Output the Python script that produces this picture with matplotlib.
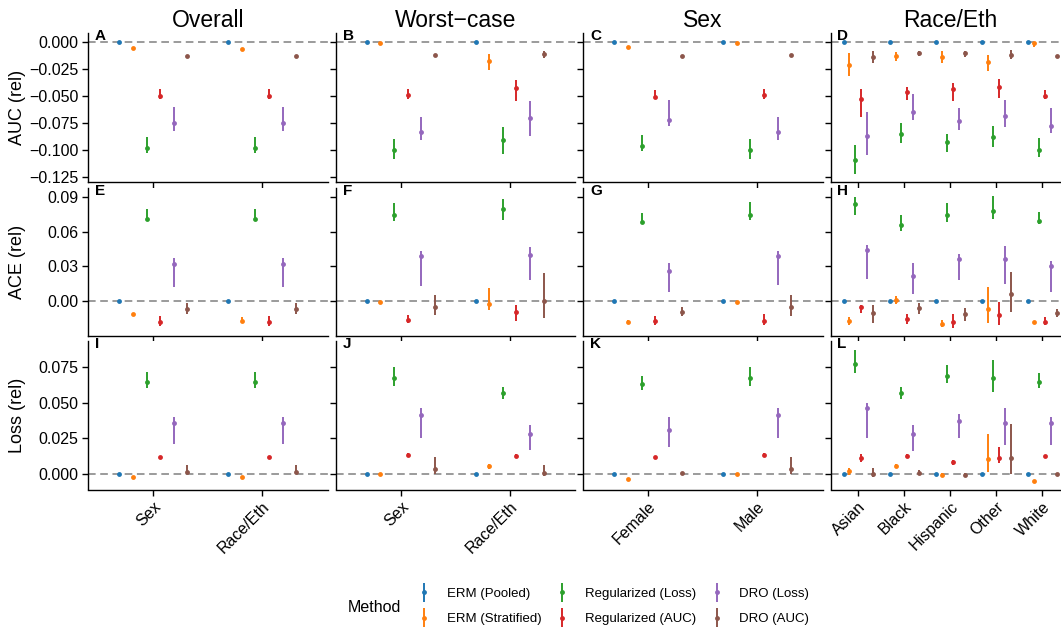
import numpy as np
import matplotlib
matplotlib.use("Agg")
import matplotlib.pyplot as plt
from matplotlib.container import ErrorbarContainer
from matplotlib.legend_handler import HandlerErrorbar

plt.rcParams["font.family"] = ["Liberation Sans", "DejaVu Sans"]

W, H = 1061, 630

METHODS = ["ERM (Pooled)", "ERM (Stratified)", "Regularized (Loss)",
           "Regularized (AUC)", "DRO (Loss)", "DRO (AUC)"]
COLORS = ["#1f77b4", "#ff7f0e", "#2ca02c", "#d62728", "#9467bd", "#8c564b"]

GROUPS = ["Sex", "Race/Eth"]
SEX = ["Female", "Male"]
RACE = ["Asian", "Black", "Hispanic", "Other", "White"]
COL_TITLES = ["Overall", "Worst\u2212case", "Sex", "Race/Eth"]
ROW_LABELS = ["AUC (rel)", "ACE (rel)", "Loss (rel)"]
TAGS = "ABCDEFGHIJKL"

AUC_TICKS = [0.0, -0.025, -0.05, -0.075, -0.1, -0.125]
ACE_TICKS = [0.0, 0.03, 0.06, 0.09]
LOSS_TICKS = [0.0, 0.025, 0.05, 0.075]

# rows = methods (same order as METHODS), columns = categories
# ---- AUC ----
AUC_OVERALL_MID = [[0, 0], [-0.0053, -0.0068], [-0.098, -0.098], [-0.050, -0.050], [-0.0755, -0.0755], [-0.0127, -0.0127]]
AUC_OVERALL_LO = [[0, 0], [-0.0062, -0.0082], [-0.1034, -0.1034], [-0.0526, -0.0526], [-0.0823, -0.0823], [-0.0135, -0.0135]]
AUC_OVERALL_HI = [[0, 0], [-0.0044, -0.0051], [-0.0879, -0.0879], [-0.0439, -0.0439], [-0.0606, -0.0606], [-0.0119, -0.0119]]

AUC_WORST_MID = [[0, 0], [-0.0012, -0.0176], [-0.100, -0.091], [-0.0489, -0.0427], [-0.0836, -0.0706], [-0.0124, -0.0111]]
AUC_WORST_LO = [[0, 0], [-0.0018, -0.0257], [-0.1083, -0.1042], [-0.0526, -0.0545], [-0.0913, -0.0873], [-0.0132, -0.0151]]
AUC_WORST_HI = [[0, 0], [-0.0006, -0.0111], [-0.090, -0.0789], [-0.0436, -0.0353], [-0.0696, -0.055], [-0.0116, -0.0081]]

AUC_SEX_MID = [[0, 0], [-0.0043, -0.0012], [-0.0965, -0.100], [-0.0507, -0.0489], [-0.0724, -0.0836], [-0.013, -0.0121]]
AUC_SEX_LO = [[0, 0], [-0.0050, -0.0018], [-0.1009, -0.1083], [-0.0532, -0.0529], [-0.078, -0.0913], [-0.0137, -0.0128]]
AUC_SEX_HI = [[0, 0], [-0.0036, -0.0006], [-0.0863, -0.090], [-0.0446, -0.0436], [-0.0538, -0.0696], [-0.0123, -0.0114]]

AUC_RACE_MID = [[0, 0, 0, 0, 0],
                [-0.021, -0.013, -0.0139, -0.0182, -0.0012],
                [-0.1096, -0.0857, -0.0931, -0.0882, -0.1003],
                [-0.0532, -0.0464, -0.0436, -0.0414, -0.0501],
                [-0.0873, -0.0647, -0.0736, -0.0687, -0.078],
                [-0.0136, -0.0105, -0.0099, -0.0121, -0.0133]]
AUC_RACE_LO = [[0, 0, 0, 0, 0],
               [-0.0316, -0.0173, -0.0198, -0.0266, -0.0043],
               [-0.1225, -0.094, -0.1018, -0.0972, -0.107],
               [-0.0699, -0.0538, -0.0545, -0.052, -0.0532],
               [-0.1052, -0.0724, -0.0814, -0.0786, -0.0848],
               [-0.0198, -0.013, -0.0142, -0.016, -0.0140]]
AUC_RACE_HI = [[0, 0, 0, 0, 0],
               [-0.0102, -0.009, -0.0083, -0.0118, 0.0],
               [-0.0956, -0.0755, -0.0857, -0.078, -0.0891],
               [-0.0439, -0.042, -0.0378, -0.0343, -0.0446],
               [-0.0647, -0.0486, -0.0616, -0.0538, -0.0616],
               [-0.0081, -0.0086, -0.0080, -0.0074, -0.0126]]

# ---- ACE ----
ACE_OVERALL_MID = [[0, 0], [-0.0119, -0.0174], [0.0709, 0.0709], [-0.0186, -0.0186], [0.0317, 0.0317], [-0.0076, -0.0076]]
ACE_OVERALL_LO = [[0, 0], [-0.0125, -0.0197], [0.0694, 0.0694], [-0.0221, -0.0221], [0.0116, 0.0116], [-0.0119, -0.0119]]
ACE_OVERALL_HI = [[0, 0], [-0.0113, -0.0139], [0.0801, 0.0801], [-0.0134, -0.0134], [0.0369, 0.0369], [-0.0023, -0.0023]]

ACE_WORST_MID = [[0, 0], [-0.0015, -0.0029], [0.0749, 0.0799], [-0.0168, -0.0096], [0.0389, 0.0401], [-0.0055, 0.0]]
ACE_WORST_LO = [[0, 0], [-0.003, -0.0081], [0.0697, 0.0703], [-0.0197, -0.0174], [0.0131, 0.018], [-0.0128, -0.0148]]
ACE_WORST_HI = [[0, 0], [0.0, 0.0107], [0.0851, 0.0889], [-0.0125, -0.0038], [0.0436, 0.0465], [0.0046, 0.0238]]

ACE_SEX_MID = [[0, 0], [-0.0183, -0.0012], [0.0682, 0.0749], [-0.0174, -0.0174], [0.0256, 0.0389], [-0.0096, -0.0055]]
ACE_SEX_LO = [[0, 0], [-0.0195, -0.002], [0.0665, 0.0703], [-0.0212, -0.0212], [0.0076, 0.0134], [-0.0134, -0.0134]]
ACE_SEX_HI = [[0, 0], [-0.0171, -0.0004], [0.0767, 0.0857], [-0.0134, -0.0119], [0.0325, 0.0436], [-0.0058, 0.0046]]

ACE_RACE_MID = [[0, 0, 0, 0, 0],
                [-0.0174, 0.0006, -0.0203, -0.007, -0.0183],
                [0.0839, 0.0659, 0.0743, 0.0781, 0.0694],
                [-0.0058, -0.016, -0.0189, -0.0128, -0.0183],
                [0.0441, 0.0218, 0.0363, 0.0363, 0.0305],
                [-0.011, -0.0067, -0.0116, 0.0055, -0.0105]]
ACE_RACE_LO = [[0, 0, 0, 0, 0],
               [-0.0215, -0.0032, -0.0232, -0.0197, -0.0193],
               [0.0746, 0.061, 0.0688, 0.0711, 0.0668],
               [-0.011, -0.0203, -0.0241, -0.0212, -0.0212],
               [0.0189, 0.0055, 0.018, 0.0145, 0.0078],
               [-0.0197, -0.0119, -0.0174, -0.0096, -0.0139]]
ACE_RACE_HI = [[0, 0, 0, 0, 0],
               [-0.0139, 0.0041, -0.0168, 0.0122, -0.0173],
               [0.0906, 0.0746, 0.0854, 0.0912, 0.0772],
               [-0.0035, -0.0116, -0.0116, -0.0012, -0.0145],
               [0.0485, 0.0331, 0.0407, 0.0476, 0.0348],
               [-0.0038, -0.0023, -0.0061, 0.025, -0.007]]

# ---- Loss ----
LOSS_OVERALL_MID = [[0, 0], [-0.0021, -0.0021], [0.0649, 0.0649], [0.012, 0.012], [0.0355, 0.0355], [0.0014, 0.0014]]
LOSS_OVERALL_LO = [[0, 0], [-0.0025, -0.0028], [0.0602, 0.0602], [0.0115, 0.0115], [0.0209, 0.0209], [-0.0002, -0.0002]]
LOSS_OVERALL_HI = [[0, 0], [-0.0017, -0.0014], [0.0717, 0.0717], [0.0125, 0.0125], [0.0402, 0.0402], [0.0059, 0.0059]]

LOSS_WORST_MID = [[0, 0], [-0.0005, 0.0052], [0.0675, 0.0567], [0.0129, 0.0127], [0.0416, 0.0277], [0.0035, 0.0007]]
LOSS_WORST_LO = [[0, 0], [-0.0008, 0.0035], [0.0618, 0.0527], [0.0116, 0.0111], [0.0254, 0.0165], [-0.0002, -0.0016]]
LOSS_WORST_HI = [[0, 0], [-0.0002, 0.0068], [0.0755, 0.0614], [0.0143, 0.0141], [0.0461, 0.0341], [0.012, 0.0063]]

LOSS_SEX_MID = [[0, 0], [-0.0035, -0.0005], [0.0635, 0.0675], [0.0118, 0.0129], [0.031, 0.0416], [0.0008, 0.0035]]
LOSS_SEX_LO = [[0, 0], [-0.0040, -0.0008], [0.0590, 0.0618], [0.0112, 0.0116], [0.0190, 0.0254], [0.0002, -0.0002]]
LOSS_SEX_HI = [[0, 0], [-0.0030, -0.0002], [0.0685, 0.0755], [0.0124, 0.0143], [0.0400, 0.0461], [0.0014, 0.012]]

LOSS_RACE_MID = [[0, 0, 0, 0, 0],
                 [0.0016, 0.0052, -0.0009, 0.0103, -0.0054],
                 [0.0771, 0.0566, 0.0686, 0.0672, 0.0649],
                 [0.0113, 0.0125, 0.008, 0.0113, 0.0125],
                 [0.0461, 0.0277, 0.0369, 0.0355, 0.036],
                 [0.0, 0.0007, -0.0009, 0.0108, 0.0]]
LOSS_RACE_LO = [[0, 0, 0, 0, 0],
                [-0.0009, 0.0037, -0.0025, 0.0014, -0.0058],
                [0.0712, 0.0526, 0.0637, 0.0578, 0.0602],
                [0.008, 0.0110, 0.0062, 0.0078, 0.0120],
                [0.0249, 0.0162, 0.0249, 0.0204, 0.0204],
                [-0.0021, -0.0012, -0.0025, 0.0, -0.0004]]
LOSS_RACE_HI = [[0, 0, 0, 0, 0],
                [0.0042, 0.0068, 0.0007, 0.028, -0.0050],
                [0.0872, 0.0613, 0.0764, 0.0801, 0.0712],
                [0.0136, 0.0140, 0.0099, 0.019, 0.0130],
                [0.0496, 0.0341, 0.0418, 0.0465, 0.0397],
                [0.0038, 0.0026, 0.0007, 0.035, 0.0004]]

CATS = [GROUPS, GROUPS, SEX, RACE]
PANELS = [
    [(AUC_OVERALL_MID, AUC_OVERALL_LO, AUC_OVERALL_HI),
     (AUC_WORST_MID, AUC_WORST_LO, AUC_WORST_HI),
     (AUC_SEX_MID, AUC_SEX_LO, AUC_SEX_HI),
     (AUC_RACE_MID, AUC_RACE_LO, AUC_RACE_HI)],
    [(ACE_OVERALL_MID, ACE_OVERALL_LO, ACE_OVERALL_HI),
     (ACE_WORST_MID, ACE_WORST_LO, ACE_WORST_HI),
     (ACE_SEX_MID, ACE_SEX_LO, ACE_SEX_HI),
     (ACE_RACE_MID, ACE_RACE_LO, ACE_RACE_HI)],
    [(LOSS_OVERALL_MID, LOSS_OVERALL_LO, LOSS_OVERALL_HI),
     (LOSS_WORST_MID, LOSS_WORST_LO, LOSS_WORST_HI),
     (LOSS_SEX_MID, LOSS_SEX_LO, LOSS_SEX_HI),
     (LOSS_RACE_MID, LOSS_RACE_LO, LOSS_RACE_HI)],
]
ROW_TICKS = [AUC_TICKS, ACE_TICKS, LOSS_TICKS]
ROW_FMT = ["{:.3f}", "{:.2f}", "{:.3f}"]
ROW_YLIM = [(-0.1295, 0.0084), (-0.0307, 0.0986), (-0.0111, 0.0935)]

# layout in pixels
COL_LEFT = [88, 335.5, 583, 830.5]
ROW_TOP = [33, 187.5, 341]
PW, PH = 239.5, 148.5
DODGE = 0.75

fig = plt.figure(figsize=(W / 100, H / 100), dpi=100)


def px_axes(left, top, width, height):
    return fig.add_axes([left / W, 1 - (top + height) / H, width / W, height / H])


handles = []
for r in range(3):
    for c in range(4):
        left, top = COL_LEFT[c], ROW_TOP[r]
        ax = px_axes(left, top, PW, PH)
        mid, lo, hi = (np.array(a, dtype=float) for a in PANELS[r][c])
        cats = CATS[c]
        n = len(cats)
        ax.axhline(0, color="#808080", lw=1.1, ls=(0, (5, 3)), zorder=1)
        for m in range(len(METHODS)):
            xs = np.arange(1, n + 1) + (m - 2.5) * DODGE / 6
            cont = ax.errorbar(xs, mid[m], yerr=[mid[m] - lo[m], hi[m] - mid[m]],
                               fmt="o", color=COLORS[m], ms=3.5, mew=0,
                               elinewidth=1.4, capsize=0, zorder=3, label=METHODS[m])
            if r == 0 and c == 0:
                handles.append(cont)

        ax.set_xlim(0.4, n + 0.6)
        ax.set_ylim(*ROW_YLIM[r])
        ax.set_xticks(np.arange(1, n + 1))
        ax.set_yticks(ROW_TICKS[r])
        if r == 2:
            ax.set_xticklabels(cats, rotation=45, ha="right", va="top",
                               rotation_mode="anchor", fontsize=11.5)
        else:
            ax.set_xticklabels([])
        if c == 0:
            ax.set_yticklabels([ROW_FMT[r].format(v).replace("-", "\u2212")
                                for v in ROW_TICKS[r]], fontsize=11.5)
        else:
            ax.set_yticklabels([])

        for s in ["top", "right"]:
            ax.spines[s].set_visible(False)
        for s in ["left", "bottom"]:
            ax.spines[s].set_linewidth(1.0)
        ax.tick_params(direction="out", length=4, width=1.0, pad=3, colors="black")

        fig.text((left + 7) / W, 1 - (top + 7.5) / H, TAGS[r * 4 + c],
                 fontsize=11, fontweight="bold", ha="left", va="baseline")

        if r == 0:
            fig.text((left + PW / 2) / W, 1 - 27 / H, COL_TITLES[c],
                     fontsize=16.5, ha="center", va="baseline")
    fig.text(18 / W, 1 - (ROW_TOP[r] + PH / 2) / H, ROW_LABELS[r],
             rotation=90, ha="center", va="center", fontsize=13)

# legend
fig.text(348 / W, 1 - 607 / H, "Method", fontsize=11.5, ha="left", va="center")
fig.legend(handles, METHODS, ncol=3, loc="center left",
           bbox_to_anchor=(417.5 / W, 1 - 606.5 / H), frameon=False,
           fontsize=9.5, handlelength=1.0, handletextpad=1.2,
           columnspacing=1.1, labelspacing=0.97, borderpad=0, borderaxespad=0,
           handler_map={ErrorbarContainer: HandlerErrorbar(yerr_size=0.75)})

fig.savefig("out.png", dpi=100)
